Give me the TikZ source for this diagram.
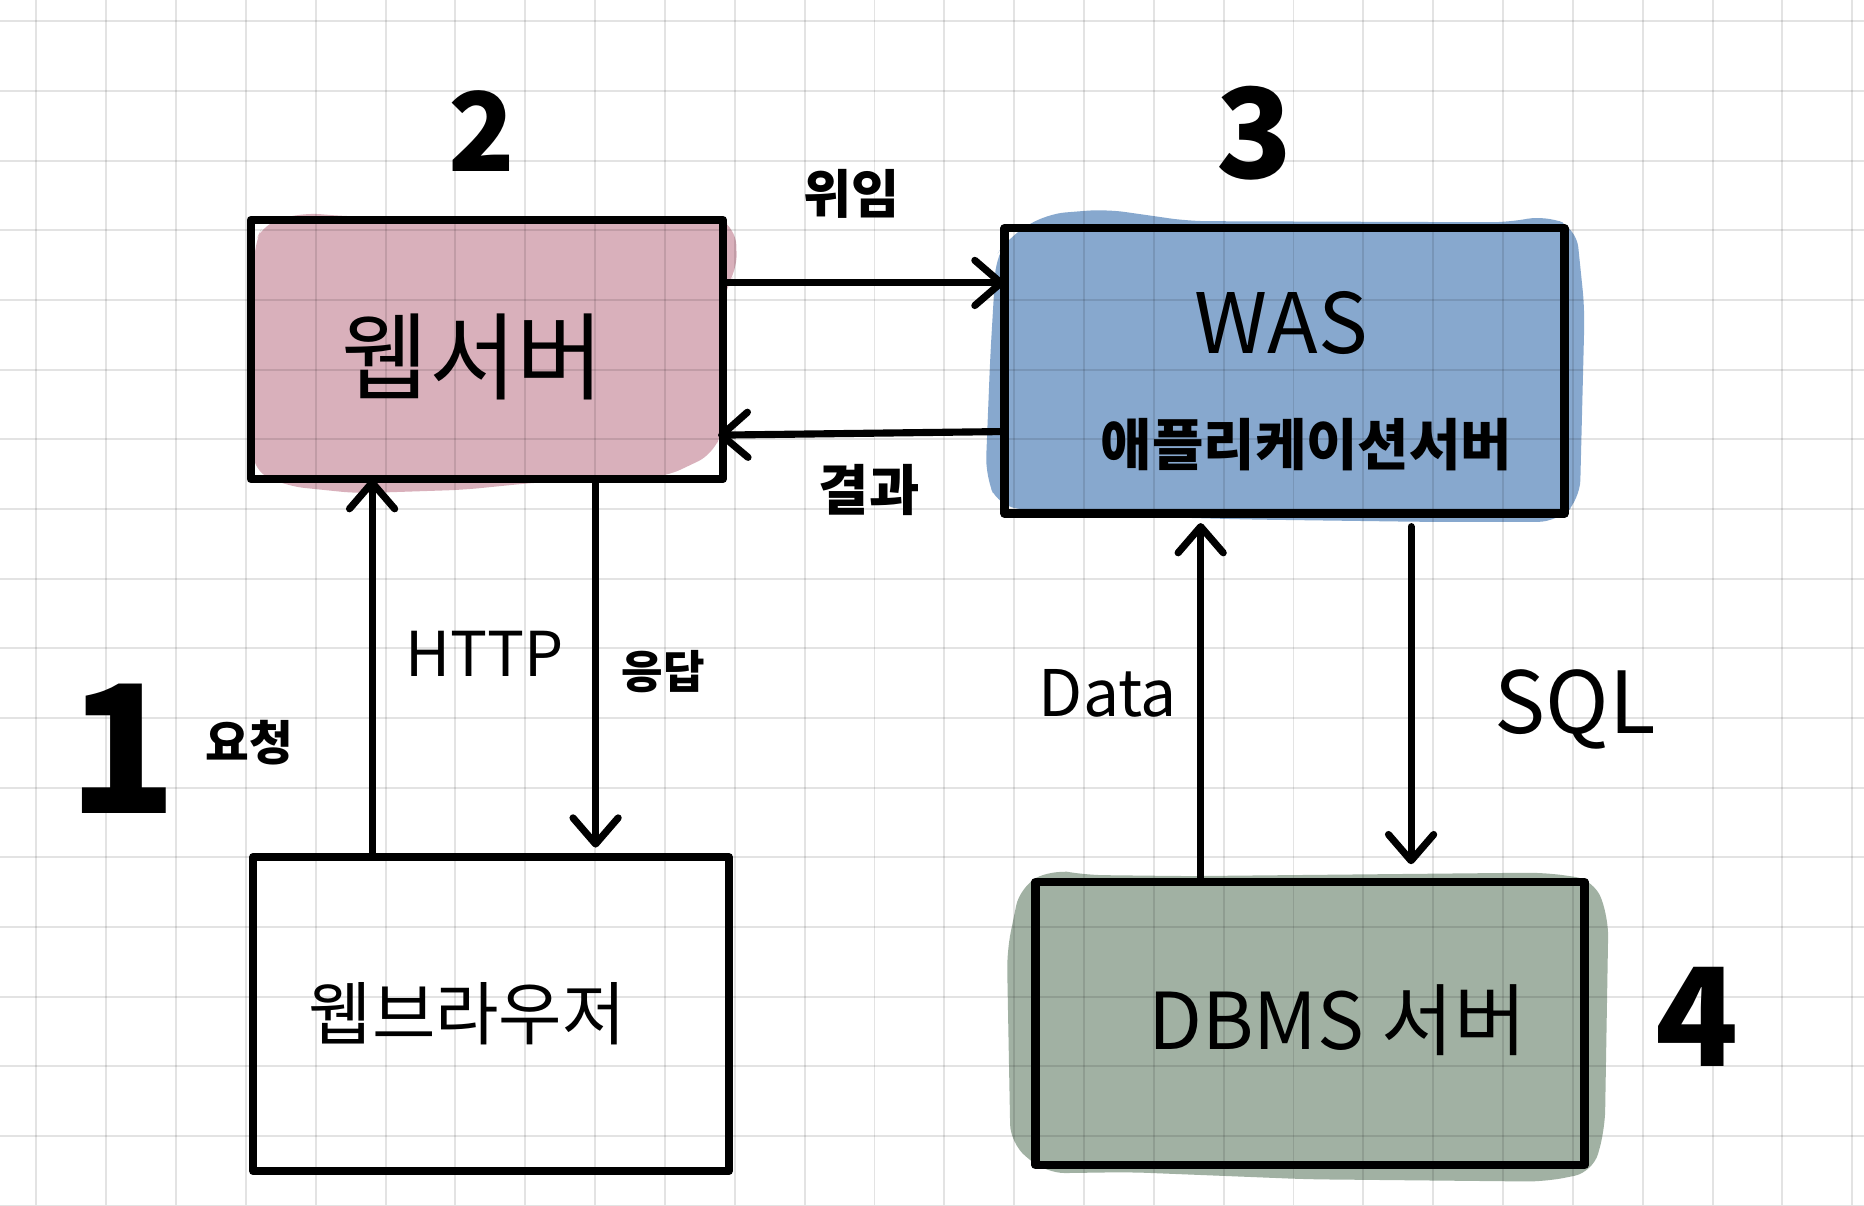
\documentclass[tikz,border=0pt]{standalone}
\usepackage{fontspec}
\newfontfamily\kr{Noto Sans CJK KR}
\usetikzlibrary{arrows.meta}
\definecolor{pinkc}{HTML}{D9B0BB}
\definecolor{bluec}{HTML}{87A8CE}
\definecolor{greenc}{HTML}{A1B1A3}
\begin{document}
\begin{tikzpicture}[x=1pt,y=-1pt,
  box/.style={draw=black, line width=7pt, inner sep=0pt, outer sep=0pt, line join=round},
  gridl/.style={draw=black, opacity=0.11, line width=1.6pt},
  txt/.style={inner sep=0pt, text=black},
  arr/.style={draw=black, line width=6pt, line cap=round, -{Straight Barb[length=22pt, width=38pt, round]}}
]
\fill[white] (0,0) rectangle (1568,1014);
\useasboundingbox (0,0) rectangle (1568,1014);

% painted blobs
\fill[pinkc, rounded corners=14pt] (222,188) -- (255,179) -- (292,182) -- (560,185) -- (600,181) -- (619,192) -- (620,228) -- (609,244) -- (608,360) -- (600,382) -- (560,401) -- (450,406) -- (390,412) -- (300,415) -- (242,409) -- (213,396) -- (213,330) -- (214,205) -- cycle;
\fill[bluec, rounded corners=16pt] (848,200) -- (880,180) -- (930,176) -- (1000,186) -- (1270,187) -- (1300,181) -- (1326,192) -- (1333,260) -- (1329,420) -- (1310,439) -- (1200,439) -- (1050,437) -- (900,433) -- (840,426) -- (829,400) -- (833,300) -- (838,215) -- cycle;
\fill[greenc, rounded corners=16pt] (858,746) -- (885,731) -- (912,736) -- (1000,737) -- (1300,734) -- (1341,740) -- (1353,772) -- (1350,950) -- (1340,986) -- (1300,994) -- (1100,992) -- (950,986) -- (880,987) -- (850,962) -- (847,800) -- cycle;

% grid
\foreach \k in {0,...,26} \draw[gridl] ({30.6+58.75*\k},0) -- ({30.6+58.75*\k},1014);
\foreach \k in {0,...,17} \draw[gridl] (0,{18+58.6*\k}) -- (1568,{18+58.6*\k});

% boxes
\node[box, minimum width=397pt, minimum height=218pt] (ws) at (409.5,294) {};
\node[box, minimum width=471pt, minimum height=240pt] (was) at (1080.5,312) {};
\node[box, minimum width=400pt, minimum height=264pt] (br) at (413,853) {};
\node[box, minimum width=462pt, minimum height=238pt] (db) at (1102,861) {};

% box texts
\node[txt, font=\kr\fontsize{80}{84}\selectfont] (tws) at (398,300) {웹서버};
\node[txt, font=\kr\fontsize{70}{74}\selectfont] (twas) at (1078,272) {WAS};
\node[txt, font=\kr\bfseries\fontsize{47}{50}\selectfont] (tapp) at (1099,374) {애플리케이션서버};
\node[txt, font=\kr\fontsize{58}{60}\selectfont] (tbr) at (393,853) {웹브라우저};
\node[txt, font=\kr\fontsize{66}{70}\selectfont] (tdb) at (1125,858) {DBMS 서버};

% numbers
\node[txt, font=\kr\bfseries\fontsize{150}{150}\selectfont] (n1) at (103,630) {1};
\node[txt, font=\kr\bfseries\fontsize{92}{92}\selectfont] (n2) at (405,110) {2};
\node[txt, font=\kr\bfseries\fontsize{105}{105}\selectfont] (n3) at (1055,112) {3};
\node[txt, font=\kr\bfseries\fontsize{115}{115}\selectfont] (n4) at (1428,855) {4};

% connectors
\draw[arr] (ws.east |- 0,238) -- (was.west |- 0,238);
\draw[arr, shorten >=-4pt] (was.west |- 0,363) -- (ws.east |- 0,366);
\draw[arr] (313,0 |- br.north) -- (313,0 |- ws.south);
\draw[arr, shorten >=8pt] (501,0 |- ws.south) -- (501,0 |- br.north);
\draw[arr, shorten >=8pt] (1010,0 |- db.north) -- (1010,0 |- was.south);
\draw[arr, shorten <=11pt, shorten >=15pt] (1187,0 |- was.south) -- (1187,0 |- db.north);

% connector labels
\node[txt, font=\kr\bfseries\fontsize{44}{46}\selectfont] (lwi) at (716,163) {위임};
\node[txt, font=\kr\bfseries\fontsize{46}{48}\selectfont] (lres) at (731,412) {결과};
\node[txt, font=\kr\fontsize{52}{54}\selectfont] (lhttp) at (408,550) {HTTP};
\node[txt, font=\kr\bfseries\fontsize{40}{42}\selectfont] (lreq) at (210,625) {요청};
\node[txt, font=\kr\bfseries\fontsize{38}{40}\selectfont] (lresp) at (558,565) {응답};
\node[txt, font=\kr\fontsize{54}{56}\selectfont] (ldata) at (932,583) {Data};
\node[txt, font=\kr\fontsize{72}{74}\selectfont] (lsql) at (1325,597) {SQL};
\end{tikzpicture}
\end{document}
